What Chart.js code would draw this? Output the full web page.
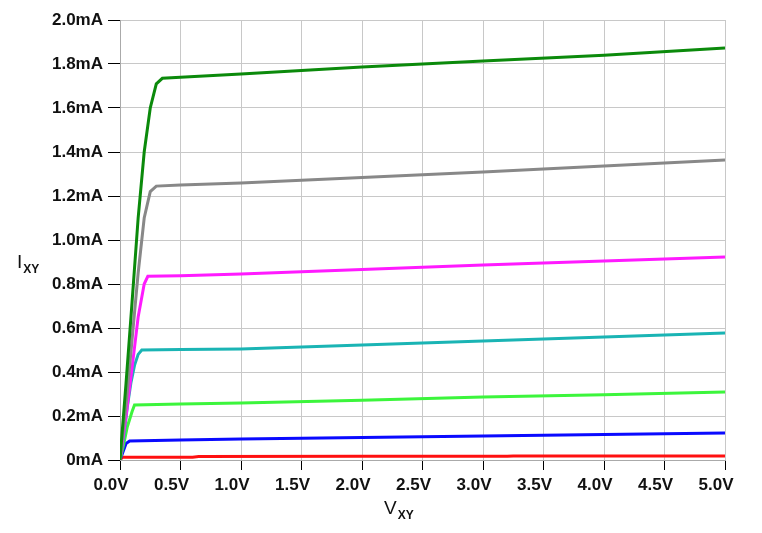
<!DOCTYPE html>
<html>
<head>
<meta charset="utf-8">
<script src="https://cdn.jsdelivr.net/npm/chart.js@4/dist/chart.umd.min.js"></script>
<style>
  body { margin: 0; background: #fff; }
  #wrap { position: relative; width: 762px; height: 533px; }
  .ttl { position: absolute; font-family: "Liberation Sans", Arial, sans-serif; font-size: 19px; color: #111; }
  .ttl sub { font-size: 12px; font-weight: bold; vertical-align: -5px; margin-left: 1px; }
</style>
</head>
<body>
<div id="wrap">
  <canvas id="myChart" width="762" height="533"></canvas>
  <div class="ttl" style="left:17px; top:251px;">I<sub>XY</sub></div>
  <div class="ttl" style="left:384px; top:497px;">V<sub>XY</sub></div>
</div>
<script>
// tick labels
const xTicks = [0, 0.5, 1, 1.5, 2, 2.5, 3, 3.5, 4, 4.5, 5];
const yTicks = [0, 0.2, 0.4, 0.6, 0.8, 1.0, 1.2, 1.4, 1.6, 1.8, 2.0];

// curves, [V, mA]
const greenCurve = [[0,0],[0.05,0.35],[0.1,0.72],[0.15,1.1],[0.2,1.4],[0.25,1.6],[0.3,1.71],[0.35,1.735],[0.5,1.74],[1,1.755],[2,1.786],[3,1.814],[4,1.84],[5,1.873]];
const grayCurve  = [[0,0],[0.05,0.25],[0.1,0.55],[0.15,0.85],[0.2,1.1],[0.25,1.22],[0.3,1.245],[0.5,1.25],[1,1.259],[2,1.284],[3,1.309],[4,1.336],[5,1.364]];
const magentaCurve = [[0,0],[0.05,0.2],[0.1,0.42],[0.15,0.65],[0.18,0.74],[0.2,0.8],[0.23,0.835],[0.5,0.838],[1,0.845],[2,0.866],[3,0.886],[4,0.905],[5,0.923]];
const cyanCurve  = [[0,0],[0.03,0.1],[0.06,0.24],[0.09,0.35],[0.12,0.43],[0.15,0.48],[0.18,0.5],[0.5,0.502],[1,0.505],[2,0.523],[3,0.541],[4,0.559],[5,0.577]];
const limeCurve  = [[0,0],[0.03,0.07],[0.06,0.15],[0.1,0.22],[0.12,0.25],[0.5,0.255],[1,0.259],[2,0.272],[3,0.286],[4,0.297],[5,0.309]];
const blueCurve  = [[0,0],[0.02,0.03],[0.05,0.075],[0.08,0.086],[0.5,0.091],[1,0.095],[2,0.102],[3,0.109],[4,0.116],[5,0.123]];
const redCurve   = [[0,0],[0.02,0.012],[0.6,0.013],[0.65,0.016],[2,0.017],[3.2,0.017],[3.25,0.018],[5,0.018]];

const seriesColors = ['#0b8a0b', '#888888', '#ff1aff', '#1ab4b4', '#3cf53c', '#0a0aff', '#ff1010'];
const allCurves = [greenCurve, grayCurve, magentaCurve, cyanCurve, limeCurve, blueCurve, redCurve];

const ctx = document.getElementById('myChart').getContext('2d');
const tickFont = { family: '"Liberation Sans", Arial, sans-serif', size: 17, weight: 'bold' };

new Chart(ctx, {
  type: 'line',
  data: {
    datasets: allCurves.map((c, i) => ({
      data: c.map(p => ({ x: p[0], y: p[1] })),
      borderColor: seriesColors[i],
      borderWidth: 3,
      pointRadius: 0,
      tension: 0,
      fill: false
    }))
  },
  options: {
    responsive: false,
    animation: false,
    layout: { padding: { top: 20, right: 37, left: 0, bottom: 0 } },
    plugins: { legend: { display: false }, tooltip: { enabled: false } },
    scales: {
      x: {
        type: 'linear', min: 0, max: 5,
        afterBuildTicks: s => { s.ticks = xTicks.map(v => ({ value: v })); },
        afterFit: s => { s.height = 73; },
        grid: { color: '#c8c8c8', tickColor: '#000', tickLength: 10, lineWidth: 1 },
        border: { color: '#aaaaaa' },
        ticks: { color: '#111', font: tickFont, padding: 5, labelOffset: -9, maxRotation: 0, callback: v => v.toFixed(1) + 'V' }
      },
      y: {
        type: 'linear', min: 0, max: 2,
        afterBuildTicks: s => { s.ticks = yTicks.map(v => ({ value: v })); },
        afterFit: s => { s.width = 120; },
        grid: { color: '#c8c8c8', tickColor: '#000', tickLength: 12, lineWidth: 1 },
        border: { color: '#aaaaaa' },
        ticks: { color: '#111', font: tickFont, padding: 5, callback: v => v === 0 ? '0mA' : v.toFixed(1) + 'mA' }
      }
    }
  }
});
</script>
</body>
</html>
